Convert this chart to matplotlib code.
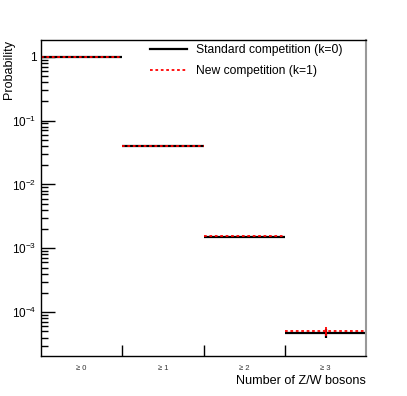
import numpy as np
import matplotlib
matplotlib.use("Agg")
import matplotlib.pyplot as plt
from matplotlib.lines import Line2D
from matplotlib.ticker import LogLocator, NullFormatter, FixedLocator

plt.rcParams["font.family"] = ["Liberation Sans", "DejaVu Sans"]
plt.rcParams["mathtext.fontset"] = "custom"
plt.rcParams["mathtext.rm"] = "Liberation Sans"
plt.rcParams["mathtext.it"] = "Liberation Sans:italic"

# -------------------------
# Data
# -------------------------
categories = ["\u2265 0", "\u2265 1", "\u2265 2", "\u2265 3"]
std_vals = [1.0, 0.0400, 1.49e-3, 4.70e-5]
std_err = [0.0, 0.0, 1.5e-5, 8e-6]
new_vals = [1.0, 0.0405, 1.56e-3, 5.0e-5]
new_err = [0.0, 0.0, 1.5e-5, 8e-6]

x = np.arange(len(categories))

fig = plt.figure(figsize=(4.07, 3.96), dpi=100)
ax = fig.add_axes([0.1, 0.1, 0.8, 0.8])

eb1 = ax.errorbar(x, std_vals, xerr=0.5, yerr=std_err, fmt="none",
                  ecolor="black", elinewidth=1.6, capsize=0)
eb2 = ax.errorbar(x, new_vals, xerr=0.5, yerr=new_err, fmt="none",
                  ecolor="red", elinewidth=1.3, capsize=0)
# horizontal (x error) part of the red one is dotted
eb2[2][0].set_linestyle((0, (1.5, 1.5)))

ax.set_yscale("log")
ax.set_xlim(-0.5, 3.5)
ax.set_ylim(2.03e-5, 1.85)

# y ticks (ROOT style, inward, left only)
ax.yaxis.set_minor_locator(LogLocator(base=10, subs=np.arange(2, 10), numticks=20))
ax.yaxis.set_minor_formatter(NullFormatter())
ax.set_yticks([1e-4, 1e-3, 1e-2, 1e-1, 1])
ax.set_yticklabels(["$10^{-4}$", "$10^{-3}$", "$10^{-2}$", "$10^{-1}$", "1"])
ax.tick_params(axis="y", which="major", direction="in", length=10, width=1,
               labelsize=8.5, pad=3)
ax.tick_params(axis="y", which="minor", direction="in", length=5, width=1)

# x ticks: labels at bin centres, tick marks at bin edges
ax.set_xticks(x)
ax.set_xticklabels(categories)
ax.xaxis.set_minor_locator(FixedLocator([0.5, 1.5, 2.5]))
ax.tick_params(axis="x", which="major", length=0, labelsize=5.5, pad=6,
               labelcolor="#333333")
ax.tick_params(axis="x", which="minor", direction="in", length=8, width=1)

for s in ax.spines.values():
    s.set_linewidth(1)
ax.spines["right"].set_color("#999999")
ax.spines["right"].set_linewidth(1.5)

ax.set_ylabel("Probability", fontsize=9, loc="top")
ax.yaxis.set_label_coords(-0.078, 1.0)
ax.set_xlabel("Number of Z/W bosons", fontsize=9.1, loc="right")
ax.xaxis.set_label_coords(1.0, -0.058)

handles = [
    Line2D([], [], color="black", lw=1.6),
    Line2D([], [], color="red", lw=1.3, linestyle=(0, (1.5, 1.5))),
]
labels = ["Standard competition (k=0)", "New competition (k=1)"]
ax.legend(handles, labels, loc="upper left", bbox_to_anchor=(0.337, 0.985),
          frameon=False, fontsize=8.7, handlelength=3.0, handletextpad=0.75,
          labelspacing=0.75, borderaxespad=0, borderpad=0)

plt.savefig("out.png", dpi=100)
